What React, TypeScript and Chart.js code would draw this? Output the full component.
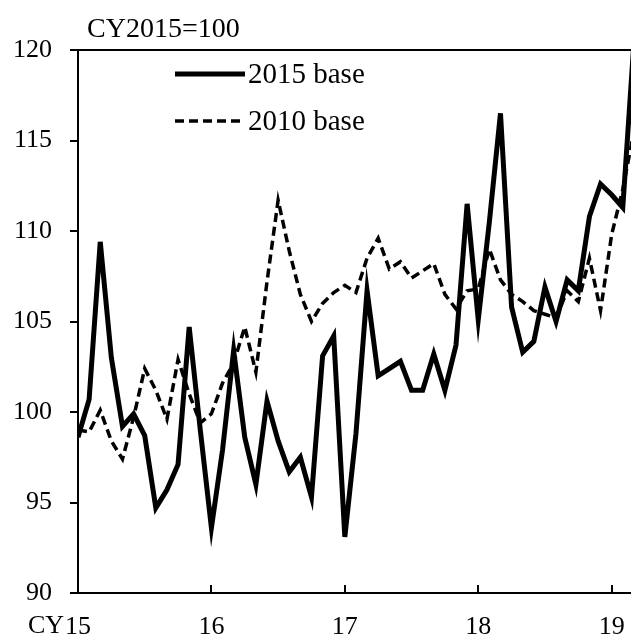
import React, { useEffect, useRef } from "react";
import { Chart, registerables } from "chart.js";

Chart.register(...registerables);

// Monthly index, Jan 2015 (0) ... Mar 2019 (50)
const months: number[] = Array.from({ length: 51 }, (_, i) => i);

const base2015: number[] = [
  98.6, 100.7, 109.4, 103.0, 99.2, 99.9, 98.7, 94.7, 95.7, 97.1, 104.7, 99.0,
  93.6, 97.9, 103.4, 98.6, 96.0, 100.6, 98.4, 96.7, 97.5, 95.3, 103.1, 104.2,
  93.1, 98.8, 106.7, 102.0, 102.4, 102.8, 101.2, 101.2, 103.2, 101.2, 103.7, 111.5,
  105.1, 110.5, 116.5, 105.8, 103.3, 103.9, 106.9, 105.0, 107.3, 106.7, 110.8, 112.6,
  112.0, 111.3, 120.4,
];

const base2010: number[] = [
  99.0, 98.9, 100.1, 98.4, 97.4, 99.7, 102.4, 101.2, 99.6, 102.9, 101.0, 99.4,
  99.9, 101.6, 102.7, 104.7, 102.2, 107.2, 111.7, 108.9, 106.5, 105.0, 106.0, 106.6,
  107.0, 106.6, 108.5, 109.6, 107.9, 108.3, 107.4, 107.8, 108.2, 106.5, 105.7, 106.7,
  106.8, 109.0, 107.3, 106.5, 106.1, 105.6, 105.4, 105.2, 106.7, 106.1, 108.5, 105.6,
  109.8, 112.3, 115.5,
];

const seriesNames: string[] = ["2015 base", "2010 base"];
const yearTickValues: number[] = [0, 12, 24, 36, 48];
const yearTickLabels: string[] = ["15", "16", "17", "18", "19"];
const yTicks: number[] = [90, 95, 100, 105, 110, 115, 120];
const unitLabel = "CY2015=100";
const xPrefix = "CY";

const FONT = "'Liberation Serif', 'Times New Roman', serif";

const decorPlugin = {
  id: "decor",
  afterDraw(chart: any) {
    const ctx = chart.ctx;
    const area = chart.chartArea;
    const xs = chart.scales.x;
    ctx.save();
    // inward x ticks
    ctx.strokeStyle = "#000";
    ctx.lineWidth = 2;
    xs.ticks.forEach((t: any) => {
      const px = Math.round(xs.getPixelForValue(t.value));
      ctx.beginPath();
      ctx.moveTo(px, area.bottom);
      ctx.lineTo(px, area.bottom - 8);
      ctx.stroke();
    });
    // unit label
    ctx.fillStyle = "#000";
    ctx.font = `28px ${FONT}`;
    ctx.textAlign = "left";
    ctx.textBaseline = "alphabetic";
    ctx.fillText(unitLabel, area.left + 9, area.top - 13);
    // CY prefix for x labels
    ctx.font = `26px ${FONT}`;
    ctx.textAlign = "right";
    ctx.fillText(xPrefix, area.left - 14, area.bottom + 40);
    // legend
    const lx0 = area.left + 97;
    const lx1 = area.left + 167;
    chart.data.datasets.forEach((ds: any, i: number) => {
      const ly = area.top + 24 + i * 47;
      ctx.beginPath();
      ctx.lineWidth = ds.borderWidth;
      ctx.setLineDash(ds.borderDash || []);
      ctx.lineCap = "butt";
      ctx.moveTo(lx0, ly);
      ctx.lineTo(lx1, ly);
      ctx.stroke();
      ctx.setLineDash([]);
      ctx.font = `29px ${FONT}`;
      ctx.textAlign = "left";
      ctx.textBaseline = "middle";
      ctx.fillText(ds.label, lx1 + 3, ly + 1);
    });
    ctx.restore();
  },
};

export default function App() {
  const canvasRef = useRef<HTMLCanvasElement | null>(null);

  useEffect(() => {
    if (!canvasRef.current) return;
    const chart = new Chart(canvasRef.current, {
      type: "line",
      data: {
        labels: months,
        datasets: [
          {
            label: seriesNames[0],
            data: months.map((m, i) => ({ x: m, y: base2015[i] })),
            borderColor: "#000",
            borderWidth: 5,
            pointRadius: 0,
            tension: 0,
            borderJoinStyle: "miter",
            fill: false,
          },
          {
            label: seriesNames[1],
            data: months.map((m, i) => ({ x: m, y: base2010[i] })),
            borderColor: "#000",
            borderWidth: 3.5,
            borderDash: [9, 5],
            pointRadius: 0,
            tension: 0,
            borderJoinStyle: "miter",
            fill: false,
          },
        ],
      },
      options: {
        animation: false,
        responsive: false,
        maintainAspectRatio: false,
        layout: { padding: { top: 50, left: 0, right: 0, bottom: 0 } },
        plugins: {
          legend: { display: false },
          tooltip: { enabled: false },
          title: { display: false },
        },
        scales: {
          x: {
            type: "linear",
            min: 0,
            max: 49.74,
            afterFit: (s: any) => {
              s.height = 46;
              s.paddingLeft = 0;
              s.paddingRight = 0;
            },
            afterBuildTicks: (s: any) => {
              s.ticks = yearTickValues.map((v) => ({ value: v }));
            },
            grid: { display: false, drawTicks: false },
            border: { display: true, color: "#000", width: 2 },
            ticks: {
              color: "#000",
              font: { family: FONT, size: 26 },
              padding: 19,
              maxRotation: 0,
              autoSkip: false,
              callback: (v: any) => {
                const idx = yearTickValues.indexOf(Number(v));
                return idx >= 0 ? yearTickLabels[idx] : "";
              },
            },
          },
          y: {
            min: 90,
            max: 120,
            afterFit: (s: any) => {
              s.width = 78;
              s.paddingTop = 0;
              s.paddingBottom = 0;
            },
            afterBuildTicks: (s: any) => {
              s.ticks = yTicks.map((v) => ({ value: v }));
            },
            grid: {
              drawOnChartArea: true,
              drawTicks: true,
              tickLength: 8,
              lineWidth: 2,
              color: (c: any) => (c.tick && c.tick.value === 120 ? "#000" : "rgba(0,0,0,0)"),
              tickColor: "#000",
            },
            border: { display: true, color: "#000", width: 2 },
            ticks: {
              color: "#000",
              font: { family: FONT, size: 26 },
              padding: 18,
              autoSkip: false,
            },
          },
        },
      },
      plugins: [decorPlugin],
    });
    return () => chart.destroy();
  }, []);

  return (
    <div style={{ position: "fixed", left: 0, top: 0, width: 631, height: 639, background: "#fff" }}>
      <canvas ref={canvasRef} width={631} height={639} style={{ width: 631, height: 639, display: "block" }} />
    </div>
  );
}
